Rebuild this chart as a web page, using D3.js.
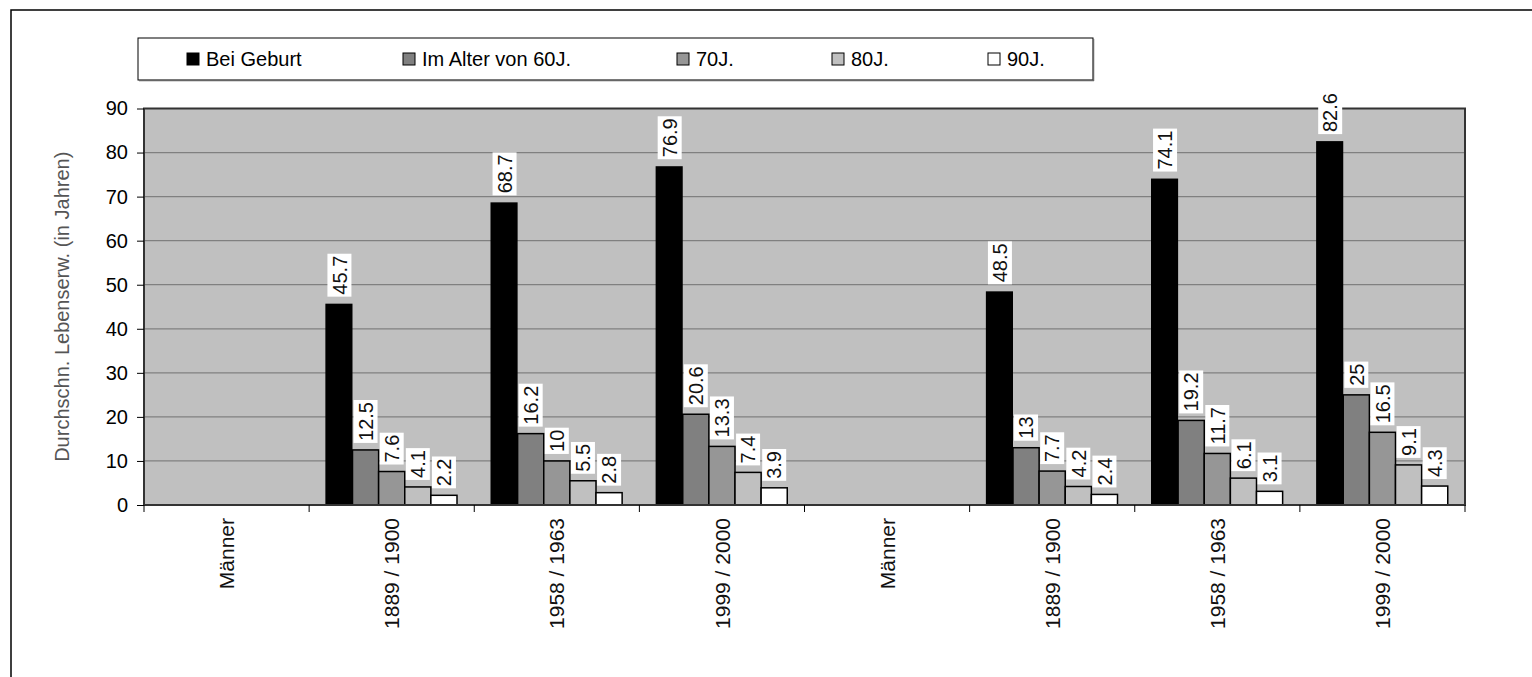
<!DOCTYPE html>
<html>
<head>
<meta charset="utf-8">
<script src="https://cdn.jsdelivr.net/npm/d3@7"></script>
<style>
  html, body { margin: 0; padding: 0; background: #fff; }
  svg { display: block; font-family: Arial, "Liberation Sans", sans-serif; }
</style>
</head>
<body>
<svg id="chart" width="1532" height="677"></svg>
<script>
// ---- data ----
const categories = ["Männer", "1889 / 1900", "1958 / 1963", "1999 / 2000", "Männer", "1889 / 1900", "1958 / 1963", "1999 / 2000"];
const seriesNames = ["Bei Geburt", "Im Alter von 60J.", "70J.", "80J.", "90J."];
const atBirth = [null, 45.7, 68.7, 76.9, null, 48.5, 74.1, 82.6];
const at60 = [null, 12.5, 16.2, 20.6, null, 13, 19.2, 25];
const at70 = [null, 7.6, 10, 13.3, null, 7.7, 11.7, 16.5];
const at80 = [null, 4.1, 5.5, 7.4, null, 4.2, 6.1, 9.1];
const at90 = [null, 2.2, 2.8, 3.9, null, 2.4, 3.1, 4.3];
const yTicks = [0, 10, 20, 30, 40, 50, 60, 70, 80, 90];
const yTitle = "Durchschn. Lebenserw.  (in Jahren)";

// ---- styles / layout ----
const colors = ["#000000", "#808080", "#969696", "#c0c0c0", "#ffffff"];
const legendX = [187, 403, 677, 832, 988];
const allSeries = [atBirth, at60, at70, at80, at90];

const svg = d3.select("#chart");
const plot = { left: 144, right: 1465, top: 108.5, bottom: 505 };

// outer frame
svg.append("rect").attr("x", 11).attr("y", 10).attr("width", 1600).attr("height", 800)
  .attr("fill", "#fff").attr("stroke", "#000").attr("stroke-width", 1.5);

const x0 = d3.scaleBand().domain(d3.range(categories.length)).range([plot.left, plot.right]).padding(0);
const x1 = d3.scaleBand().domain(d3.range(seriesNames.length)).range([0, x0.bandwidth()])
  .paddingInner(0).paddingOuter(0.66);
const y = d3.scaleLinear().domain([0, 90]).range([plot.bottom, plot.top]);

// plot background
svg.append("rect").attr("x", plot.left).attr("y", plot.top)
  .attr("width", plot.right - plot.left).attr("height", plot.bottom - plot.top)
  .attr("fill", "#c0c0c0");

// gridlines
svg.append("g").selectAll("line").data(yTicks.filter(d => d > 0)).join("line")
  .attr("x1", plot.left).attr("x2", plot.right)
  .attr("y1", d => y(d)).attr("y2", d => y(d))
  .attr("stroke", "#808080").attr("stroke-width", 1.2);

const barData = (ci) => allSeries.map((s, si) => ({ si, v: s[ci] })).filter(d => d.v != null);

// bars
const barLayer = svg.append("g");
categories.forEach((cat, ci) => {
  const g = barLayer.append("g").attr("transform", `translate(${x0(ci)},0)`);
  g.selectAll("rect").data(barData(ci)).join("rect")
    .attr("x", d => x1(d.si) - (d.si === 0 ? 1 : 0)).attr("width", d => x1.bandwidth() + (d.si === 0 ? 1 : 0))
    .attr("y", d => y(d.v)).attr("height", d => y(0) - y(d.v))
    .attr("fill", d => colors[d.si])
    .attr("stroke", "#000").attr("stroke-width", d => d.si === 0 ? 0 : 1.5);
});

// plot border
svg.append("rect").attr("x", plot.left).attr("y", plot.top)
  .attr("width", plot.right - plot.left).attr("height", plot.bottom - plot.top)
  .attr("fill", "none").attr("stroke", "#333").attr("stroke-width", 2);

// value labels
const labelLayer = svg.append("g");
categories.forEach((cat, ci) => {
  barData(ci).forEach(d => {
    const cx = x0(ci) + x1(d.si) + x1.bandwidth() / 2;
    const base = y(d.v) - 7;
    const lg = labelLayer.append("g").attr("transform", `translate(${cx},${base})`);
    const rect = lg.append("rect").attr("fill", "#fff");
    const t = lg.append("text")
      .attr("transform", "rotate(-90)")
      .attr("x", 2).attr("y", 0)
      .attr("dy", "0.36em")
      .attr("text-anchor", "start")
      .attr("font-size", 20)
      .attr("fill", "#111")
      .text(String(d.v));
    const len = t.node().getComputedTextLength();
    rect.attr("x", -12).attr("width", 24).attr("y", -len - 4).attr("height", len + 4);
  });
});

// y axis
const yAxis = svg.append("g").attr("transform", `translate(${plot.left},0)`)
  .call(d3.axisLeft(y).tickValues(yTicks).tickSize(7).tickPadding(9).tickFormat(d3.format("d")));
yAxis.select(".domain").remove();
yAxis.selectAll("line").attr("stroke", "#000");
yAxis.selectAll("text").attr("font-size", 20).attr("fill", "#000").attr("font-family", "Arial, 'Liberation Sans', sans-serif");

// x axis ticks
svg.append("g").selectAll("line").data(d3.range(categories.length + 1)).join("line")
  .attr("x1", i => i < categories.length ? x0(i) : plot.right)
  .attr("x2", i => i < categories.length ? x0(i) : plot.right)
  .attr("y1", plot.bottom).attr("y2", plot.bottom + 7)
  .attr("stroke", "#000");

// x labels
svg.append("g").selectAll("text").data(categories).join("text")
  .attr("transform", (d, i) => `translate(${x0(i) + x0.bandwidth() / 2},518) rotate(-90)`)
  .attr("text-anchor", "end").attr("dy", "0.36em")
  .attr("font-size", 21).attr("fill", "#111")
  .text(d => d);

// y title
svg.append("text")
  .attr("transform", `translate(62,${(plot.top + plot.bottom) / 2}) rotate(-90)`)
  .attr("text-anchor", "middle").attr("dy", "0.36em")
  .attr("font-size", 20).attr("fill", "#555")
  .text(yTitle);

// legend
const legend = svg.append("g");
legend.append("rect").attr("x", 138).attr("y", 38).attr("width", 955).attr("height", 42)
  .attr("fill", "#fff").attr("stroke", "#000").attr("stroke-width", 1);
legend.append("line").attr("x1", 139).attr("x2", 1094).attr("y1", 80.5).attr("y2", 80.5)
  .attr("stroke", "#666").attr("stroke-width", 1.5);
legend.append("line").attr("x1", 1093.5).attr("x2", 1093.5).attr("y1", 39).attr("y2", 81)
  .attr("stroke", "#666").attr("stroke-width", 1.5);
const li = legend.selectAll("g.item").data(seriesNames).join("g").attr("class", "item")
  .attr("transform", (d, i) => `translate(${legendX[i]},59)`);
li.append("rect").attr("x", 0).attr("y", -6).attr("width", 12).attr("height", 12)
  .attr("fill", (d, i) => colors[i]).attr("stroke", "#000").attr("stroke-width", 1);
li.append("text").attr("x", 19).attr("dy", "0.36em").attr("font-size", 20).attr("fill", "#000")
  .text(d => d);
</script>
</body>
</html>
